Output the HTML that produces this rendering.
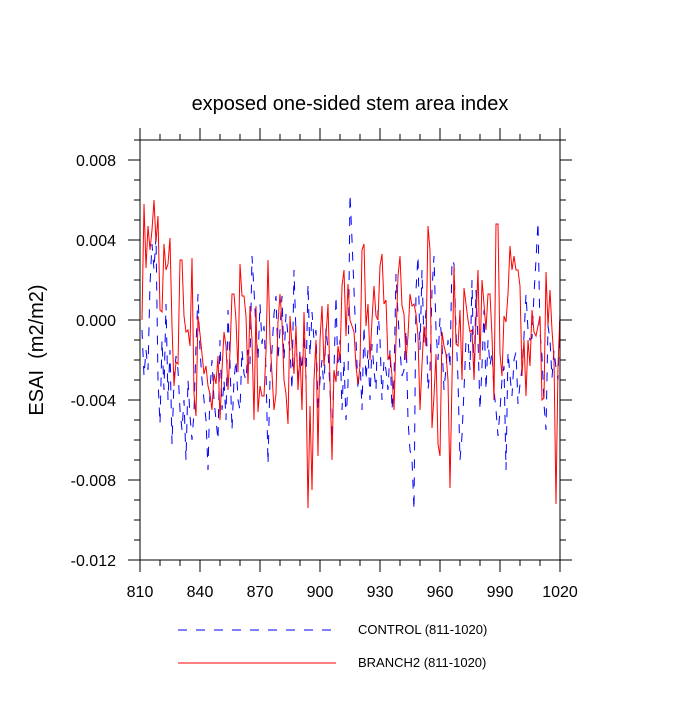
<!DOCTYPE html>
<html><head><meta charset="utf-8"><style>
body{margin:0;background:#fff}
svg{font-family:"Liberation Sans",sans-serif}
</style></head><body>
<svg id="chart" width="700" height="700" viewBox="0 0 700 700" xmlns="http://www.w3.org/2000/svg">
<rect width="700" height="700" fill="#fff"/>
<text x="350" y="110" font-size="20" text-anchor="middle">exposed one-sided stem area index</text>
<text transform="translate(43,350) rotate(-90)" font-size="20" text-anchor="middle" style="white-space:pre">ESAI  (m2/m2)</text>
<g id="axes"></g>
<g id="series"></g>
<rect x="140" y="140" width="420" height="420" fill="none" stroke="#000" stroke-width="1"/>
<line x1="178" y1="630" x2="336" y2="630" stroke="#0000ff" stroke-width="1" stroke-dasharray="9,9"/>
<text x="358" y="634" font-size="13">CONTROL (811-1020)</text>
<line x1="178" y1="663" x2="336" y2="663" stroke="#ff0000" stroke-width="1"/>
<text x="358" y="667" font-size="13">BRANCH2 (811-1020)</text>
</svg>
<script>
const startYear = 811;
const xTicks = [810, 840, 870, 900, 930, 960, 990, 1020];
const yTicks = [-0.012, -0.008, -0.004, 0.000, 0.004, 0.008];
const yTickLabels = ["-0.012", "-0.008", "-0.004", "0.000", "0.004", "0.008"];
const controlVals = [
-0.5,-2.8,-1.5,-2.5,1.8,3.8,2.5,4.2,-3,-5.2,-1,-3.5,0.8,-4,-1.5,-6.2,-3,-1.8,-2.5,-4.5,-5.5,-4,-7,-3,-4.8,-6,-4.6,-1.3,1.3,-1.5,-3,-4,-5,-7.5,-3.5,
-2,-4,-5,-6,-1,-4.5,-3,-5,0.5,-2.2,-5.5,-3,-2,-4,-4.5,-1.5,-2.7,-3,-1.5,-2.2,3.2,1.5,-0.5,-2,0.8,-1.2,-0.3,-2.5,-7.2,-3,-1.5,0.3,1.2,-2,-0.5,
1.2,-2,0.3,-0.8,-1.5,-3.5,2.5,-0.7,-3.2,-1.5,-2.5,-0.7,-3,1.8,-1.8,0.4,-1,-0.5,-4.5,-3,-2,-3.5,-0.4,-1.5,-3.5,-6,-2.5,1.2,-2.8,-1,-4.5,-2,-5,-3.2,6.3,
4,1.5,-1,-3.5,-2,-4.5,-0.3,-3,-1.5,-4,-1.2,-2.5,-3.5,0.5,-1,-4,-2,-2.5,-3.5,-1.5,-4.5,-3,2.3,0.3,-1.5,-2.8,-2.5,-0.5,-5,-6.5,-7,-9.5,1.5,3.2,-1.5,
2.5,-1.2,0.5,-3.5,-2.5,1.5,3.2,-0.5,-2,0.1,-1.2,-3.5,-2.4,-1,-2.4,3,2.8,-0.5,-3,-7,-5.8,-3.5,-1,-1,-2.5,2,-3,1.5,-1,-4.5,-2.3,0.5,-3.5,-1,-2.3,
-1.6,-3.5,-4.5,-5.8,-4.5,-3,-2.3,-7.5,-1.6,-2.8,-3.8,-2,-1.6,-4.2,-3.2,-2.4,-0.8,1.3,-0.5,-1,-0.9,1.3,3,4.9,-0.6,-1.8,-4.2,-5.5,-0.3,-1,-2.9,-1.5,-2.4,-3,0.5
];
const branch2Vals = [
0,5.8,2.6,4.7,3.5,4.5,6.0,3.9,5.2,0.5,0.4,3.8,2.5,2.8,4.1,-0.3,-3.3,-2.1,-2.2,3.0,3.0,0.2,-0.6,-0.5,-1.3,3.1,-3.7,-4.8,0.2,-0.7,-1.7,-2.7,-2.3,-3.3,
-3.7,-4.5,-2.7,-3.2,-1.8,-5.0,-2.5,-0.6,-1.3,-3.5,-1.6,1.3,1.3,0,-2.6,2.8,1.2,1.2,0.2,-3.2,0.7,-1.0,-5.0,0.7,-4.6,-3.3,-3.8,-3.8,-1.6,3.0,-1.0,-2.7,-4.5,-3.7,-0.1,1.3,
-0.1,-3.0,-3.7,-5.2,0.2,-1.3,-2.7,-0.3,-3.5,-1.7,-4.5,0.4,-3.0,-9.4,-4.3,-8.5,-3.0,-1.0,-6.8,-1.0,0.7,-2.3,-0.8,0.8,-3.0,-7.0,-2.5,-3.1,-1.3,-2.0,1.7,2.5,-0.8,1.8,0.0,
-0.3,-0.6,-2.3,-3.2,-2.3,3.5,3.8,-0.3,0.8,-2.0,0,1.7,0.2,0,2.7,3.3,0.8,1.0,-2.0,-1.7,-2.8,-4.5,-1.0,2.2,3.2,0.7,0.3,-2.0,-0.8,1.3,0.7,0.8,0.3,-0.8,-4.5,
-2.2,-0.3,-1.3,4.7,3.5,-5.4,-3.8,-1.7,-6.2,-6.8,-0.6,-1.3,-1.7,-3.0,-8.4,-3.0,2.7,-1.2,-1.3,0.5,-3.0,1.6,0.8,0,-0.6,-0.5,-3.0,0,2.5,-2.0,2.0,0.8,-0.5,1.3,1.3,
-0.8,-4.0,4.8,4.8,-1.7,-2.8,0.2,-0.1,1.3,3.7,2.5,3.2,2.5,2.5,1.7,-2.8,-1.0,-3.8,-1.0,-2.3,0.5,-0.6,-0.8,-0.3,0.2,-4.0,-3.9,2.4,-0.3,1.5,-0.5,-2.0,-9.2,-2.3,0.3
];
const NS="http://www.w3.org/2000/svg";
const xS = yr => 140 + (yr - 810) * 2;
const yS = v => 320 - v * 20000;
const axes = document.getElementById('axes');
function ln(x1,y1,x2,y2,name){
  const l=document.createElementNS(NS,'line');
  l.setAttribute('x1',x1);l.setAttribute('y1',y1);l.setAttribute('x2',x2);l.setAttribute('y2',y2);
  l.setAttribute('stroke','#000');l.setAttribute('stroke-width','1');
  
  
  axes.appendChild(l);
}
function tx(x,y,s,anchor,name){
  const t=document.createElementNS(NS,'text');
  t.setAttribute('x',x);t.setAttribute('y',y);t.setAttribute('font-size','16');t.setAttribute('text-anchor',anchor);
  t.textContent=s;
  
  
  axes.appendChild(t);
}
for(let yr=810; yr<=1020; yr+=10){
  const x=xS(yr); const major = xTicks.includes(yr); const L = major?12:6;
  ln(x,560,x,560+L,'x-tick'); ln(x,140,x,140-L,'x-tick-top');
}
xTicks.forEach(yr=>tx(xS(yr),597,String(yr),'middle','x-tick-label'));
for(let k=-12;k<=9;k++){
  const v=k/1000; if(v>0.009) break;
  const y=yS(v); const major = (k%4===0); const L = major?12:6;
  ln(140,y,140-L,y,'y-tick'); ln(560,y,560+L,y,'y-tick-right');
}
yTicks.forEach((v,i)=>tx(116,yS(v)+6,yTickLabels[i],'end','y-tick-label'));
const series=document.getElementById('series');
function draw(vals,color,dash,name){
  const pts=vals.map((v,i)=>xS(startYear+i)+','+yS(v/1000).toFixed(1)).join(' ');
  const p=document.createElementNS(NS,'polyline');
  p.setAttribute('points',pts);p.setAttribute('fill','none');p.setAttribute('stroke',color);p.setAttribute('stroke-width','1');
  if(dash)p.setAttribute('stroke-dasharray',dash);
  
  
  series.appendChild(p);
}
draw(controlVals,'#0000ff','9,9','control-line');
draw(branch2Vals,'#ff0000',null,'branch2-line');
</script>
</body></html>
